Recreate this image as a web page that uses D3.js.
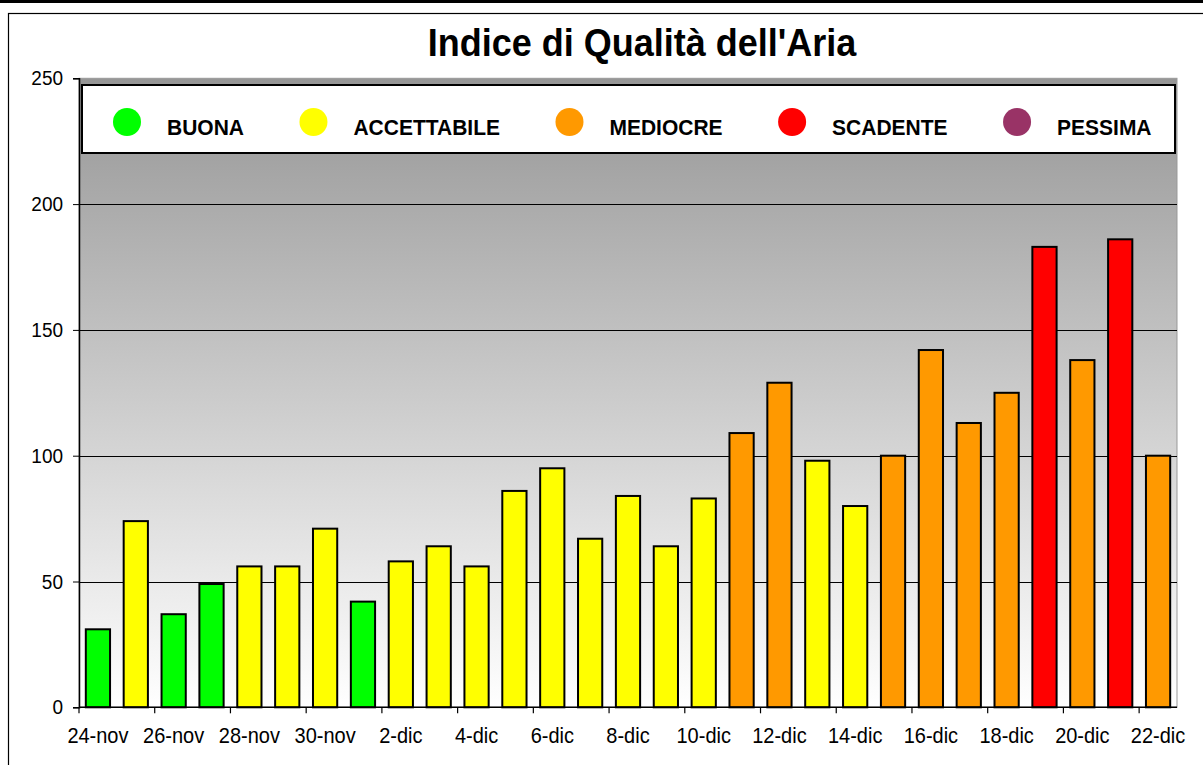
<!DOCTYPE html>
<html>
<head>
<meta charset="utf-8">
<script src="https://cdn.jsdelivr.net/npm/d3@7"></script>
<style>
  body { margin: 0; background: #fff; }
  text { font-family: "Liberation Sans", Arial, sans-serif; }
</style>
</head>
<body>
<script>
// dati
let dates = ["24-nov", "25-nov", "26-nov", "27-nov", "28-nov", "29-nov", "30-nov",
  "1-dic", "2-dic", "3-dic", "4-dic", "5-dic", "6-dic", "7-dic", "8-dic", "9-dic",
  "10-dic", "11-dic", "12-dic", "13-dic", "14-dic", "15-dic", "16-dic", "17-dic",
  "18-dic", "19-dic", "20-dic", "21-dic", "22-dic"];
let values = [31, 74, 37, 49, 56, 56, 71, 42, 58, 64, 56, 86, 95, 67, 84, 64,
  83, 109, 129, 98, 80, 100, 142, 113, 125, 183, 138, 186, 100];
let levels = [0, 1, 0, 0, 1, 1, 1, 0, 1, 1, 1, 1, 1, 1, 1, 1,
  1, 2, 2, 1, 1, 2, 2, 2, 2, 3, 2, 3, 2];
let classNames = ["BUONA", "ACCETTABILE", "MEDIOCRE", "SCADENTE", "PESSIMA"];
let classColors = ["#00ff00", "#ffff00", "#ff9900", "#ff0000", "#993366"];
let yTicks = [0, 50, 100, 150, 200, 250];

let W = 1203, H = 765;
let pLeft = 79, pRight = 1177, pTop = 78.3, pBottom = 707.3;
let stretch = 1.08; // il testo originale è un po' allungato in verticale

let svg = d3.select("body").append("svg")
    .attr("width", W)
    .attr("height", H);

// cornice
svg.append("rect").attr("x", 0).attr("y", 0).attr("width", W).attr("height", 3).attr("fill", "#000");
svg.append("rect")
    .attr("x", 8.5).attr("y", 13.5).attr("width", W + 20).attr("height", H + 20)
    .attr("fill", "none").attr("stroke", "#000").attr("stroke-width", 1.2);

let x = d3.scaleBand().domain(dates).range([pLeft, pRight])
    .paddingInner(0.36).paddingOuter(0.18);
let y = d3.scaleLinear().domain([0, 250]).range([pBottom, pTop]);

// sfondo sfumato
let grad = svg.append("defs").append("linearGradient")
    .attr("id", "bg").attr("x1", 0).attr("y1", 0).attr("x2", 0).attr("y2", 1);
grad.append("stop").attr("offset", "0%").attr("stop-color", "#969696");
grad.append("stop").attr("offset", "100%").attr("stop-color", "#ffffff");

svg.append("rect")
    .attr("x", pLeft).attr("y", pTop)
    .attr("width", pRight - pLeft).attr("height", pBottom - pTop)
    .attr("fill", "url(#bg)")
    .attr("stroke", "#999").attr("stroke-width", 1);

// griglia
svg.append("g").selectAll("line")
    .data(yTicks.filter(d => d > 0 && d < 250))
    .enter().append("line")
    .attr("x1", pLeft).attr("x2", pRight)
    .attr("y1", d => Math.round(y(d)) + 0.5).attr("y2", d => Math.round(y(d)) + 0.5)
    .attr("stroke", "#000").attr("stroke-width", 1);

// barre
svg.append("g").selectAll("rect")
    .data(values)
    .enter().append("rect")
    .attr("x", (d, i) => x(dates[i]))
    .attr("y", d => y(d))
    .attr("width", x.bandwidth())
    .attr("height", d => y(0) - y(d))
    .attr("fill", (d, i) => classColors[levels[i]])
    .attr("stroke", "#000").attr("stroke-width", 2);

// asse y
let yAxis = svg.append("g")
    .attr("transform", "translate(" + pLeft + ",0)")
    .call(d3.axisLeft(y).tickValues(yTicks).tickSize(6).tickPadding(10).tickFormat(d3.format("d")));
yAxis.select(".domain").attr("stroke", "#000").attr("stroke-width", 1.5);
yAxis.selectAll("text").attr("font-size", 19).attr("fill", "#000")
    .attr("font-family", "'Liberation Sans', Arial, sans-serif")
    .attr("transform", "scale(1," + stretch + ")");

// asse x: tacche ogni due giorni sui confini, etichette centrate
let step = x.step();
let xg = svg.append("g").attr("transform", "translate(0," + pBottom + ")");
xg.append("line").attr("x1", pLeft).attr("x2", pRight).attr("y1", 0).attr("y2", 0)
    .attr("stroke", "#000").attr("stroke-width", 1.5);
xg.selectAll(".tk")
    .data(dates.filter((d, i) => i % 2 === 0))
    .enter().append("line")
    .attr("x1", d => x(d) - step * 0.18).attr("x2", d => x(d) - step * 0.18)
    .attr("y1", 0).attr("y2", 6)
    .attr("stroke", "#000").attr("stroke-width", 1.2);
xg.selectAll("text")
    .data(dates.filter((d, i) => i % 2 === 0))
    .enter().append("text")
    .attr("transform", d => "translate(" + (x(d) + x.bandwidth() / 2) + ",36) scale(1," + stretch + ")")
    .attr("text-anchor", "middle")
    .attr("font-size", 20)
    .text(d => d);

// legenda
let lg = svg.append("g");
lg.append("rect")
    .attr("x", 82).attr("y", 85).attr("width", 1093).attr("height", 68)
    .attr("fill", "#fff").attr("stroke", "#000").attr("stroke-width", 2);
let cx = 127;
classNames.forEach(function (name, i) {
    lg.append("circle").attr("cx", cx).attr("cy", 122).attr("r", 14).attr("fill", classColors[i]);
    let t = lg.append("text")
        .attr("transform", "translate(" + (cx + 40) + ",134.5) scale(1," + stretch + ")")
        .attr("font-size", 21).attr("font-weight", "bold")
        .text(name);
    cx = cx + 40 + t.node().getComputedTextLength() + 69.5;
});

// titolo
svg.append("text")
    .attr("transform", "translate(642,56) scale(1," + stretch + ")")
    .attr("text-anchor", "middle")
    .attr("font-size", 36).attr("font-weight", "bold")
    .text("Indice di Qualità dell'Aria");
</script>
</body>
</html>
